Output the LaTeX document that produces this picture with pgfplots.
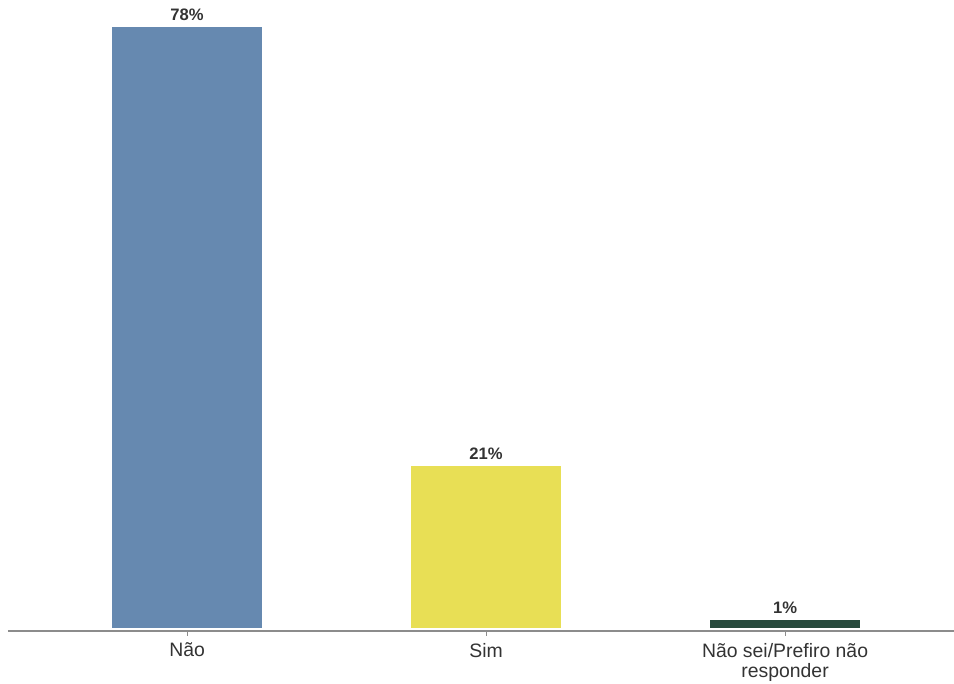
\documentclass[border=0pt]{standalone}
\usepackage{pgfplots}
\pgfplotsset{compat=1.18}
\usepackage{fontspec}
\setmainfont{Liberation Sans}
\definecolor{cblue}{RGB}{102,137,176}
\definecolor{cyellow}{RGB}{232,223,85}
\definecolor{cgreen}{RGB}{39,74,61}
\definecolor{txt}{RGB}{51,51,51}
\definecolor{axgray}{RGB}{140,140,140}
\begin{document}
\begin{tikzpicture}
\useasboundingbox (-4pt,-26.5pt) rectangle (473pt,315.5pt);
\begin{axis}[
  at={(0,0)}, anchor=south west,
  scale only axis, width=473pt, height=313pt,
  xmin=-0.599, xmax=2.565, ymin=-0.39, ymax=80.8,
  axis x line*=bottom, axis y line=none,
  x axis line style={draw=axgray, line width=1pt, -},
  xtick={0,1,2},
  xticklabels={Não, Sim, {Não sei/Prefiro não\\responder}},
  xticklabel style={align=center, text=txt, font=\fontsize{9.7}{10}\selectfont, yshift=0pt},
  major tick length=2.5pt,
  tick style={draw=axgray, line width=0.5pt},
  xtick pos=bottom, tick align=outside,
  ytick=\empty,
  ybar, bar width=75pt, bar shift=0pt,
  /pgf/number format/assume math mode=true,
  nodes near coords={\pgfmathprintnumber{\pgfplotspointmeta}\%},
  nodes near coords style={font=\bfseries\fontsize{8.3}{9}\selectfont, text=txt, inner sep=2pt, yshift=1pt},
  clip=false,
]
\addplot[fill=cblue, draw=none] coordinates {(0,78)};
\addplot[fill=cyellow, draw=none] coordinates {(1,21)};
\addplot[fill=cgreen, draw=none] coordinates {(2,1)};
\end{axis}
\end{tikzpicture}
\end{document}
